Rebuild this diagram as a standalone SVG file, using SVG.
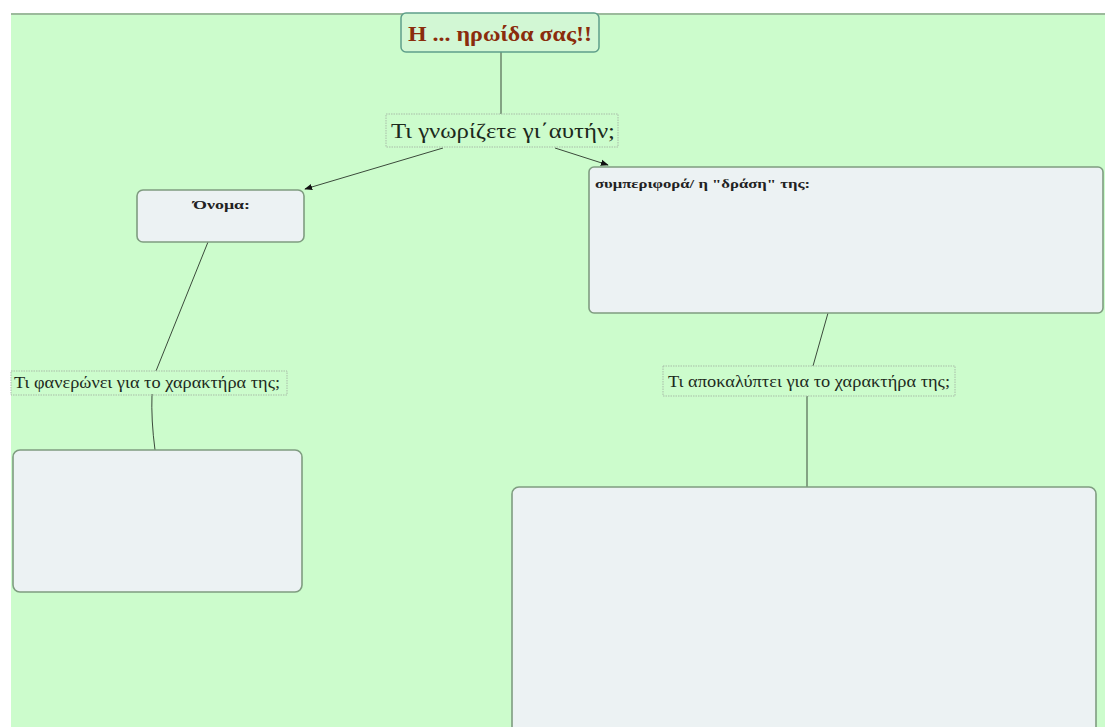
<svg xmlns="http://www.w3.org/2000/svg" width="1105" height="727" viewBox="0 0 1105 727">
<defs>
<style>
.bg{fill:#ccfccc}
.box{fill:#ecf2f3;stroke:#7f9c80;stroke-width:1.6}
.lbl{fill:none;stroke:#a8bca8;stroke-width:1;stroke-dasharray:1.5 1}
.lt{fill:#1c2a1c}
.bt{font-weight:bold;font-size:13px;fill:#222}
.con{fill:none;stroke:#3b4a3b;stroke-width:1}
</style>
<marker id="ah" viewBox="0 0 10 10" refX="9" refY="5" markerWidth="8" markerHeight="8" orient="auto" markerUnits="userSpaceOnUse">
<path d="M0,1 L10,5 L0,9 z" fill="#111"/>
</marker>
</defs>
<rect x="0" y="0" width="1105" height="727" fill="#ffffff"/>
<rect class="bg" x="11" y="13" width="1094" height="714"/>
<rect x="11" y="13" width="1094" height="2" fill="#9cba9c"/>

<g id="connectors">
<path class="con" d="M501,52 L501,114"/>
<path class="con" d="M443,148 L305,189" marker-end="url(#ah)"/>
<path class="con" d="M555,148 L608,165" marker-end="url(#ah)"/>
<path class="con" d="M208,242 L156,371"/>
<path class="con" d="M152,394 Q151,420 155,450"/>
<path class="con" d="M828,313 L813,366"/>
<path class="con" d="M807,396 L807,487"/>
</g>

<g id="title">
<rect x="401" y="13" width="198" height="39" rx="5" fill="#d2f7d4" stroke="#5f9f8a" stroke-width="1.5"/>
<text x="408" y="41" textLength="184" lengthAdjust="spacingAndGlyphs" font-family="Liberation Serif, DejaVu Serif, serif" font-weight="bold" font-size="21" fill="#8a2c0c">H ... ηρωίδα σας!!</text>
</g>

<g id="q-main">
<rect class="lbl" x="386" y="114" width="232" height="33"/>
<text class="lt" x="391" y="138" textLength="224" lengthAdjust="spacingAndGlyphs" font-family="Liberation Serif, DejaVu Serif, serif" font-size="22">Τι γνωρίζετε γι΄αυτήν;</text>
</g>

<g id="name">
<rect class="box" x="137" y="190" width="167" height="52" rx="6"/>
<text class="bt" x="193" y="209" textLength="57" lengthAdjust="spacingAndGlyphs" font-family="Liberation Serif, DejaVu Serif, serif">Όνομα:</text>
</g>

<g id="behaviour">
<rect class="box" x="589" y="167" width="514" height="146" rx="5"/>
<text class="bt" x="595" y="188" textLength="215" lengthAdjust="spacingAndGlyphs" font-family="Liberation Serif, DejaVu Serif, serif">συμπεριφορά/ η "δράση" της:</text>
</g>

<g id="q-left">
<rect class="lbl" x="11" y="371" width="276" height="24"/>
<text class="lt" x="14" y="388" textLength="266" lengthAdjust="spacingAndGlyphs" font-family="Liberation Serif, DejaVu Serif, serif" font-size="16">Τι φανερώνει για το χαρακτήρα της;</text>
</g>

<g id="q-right">
<rect class="lbl" x="663" y="366" width="292" height="30"/>
<text class="lt" x="668" y="387" textLength="282" lengthAdjust="spacingAndGlyphs" font-family="Liberation Serif, DejaVu Serif, serif" font-size="16">Τι αποκαλύπτει για το χαρακτήρα της;</text>
</g>

<g id="box-left">
<rect class="box" x="13" y="450" width="289" height="142" rx="7"/>
</g>

<g id="box-right">
<rect class="box" x="512" y="487" width="584" height="260" rx="7"/>
</g>
</svg>
